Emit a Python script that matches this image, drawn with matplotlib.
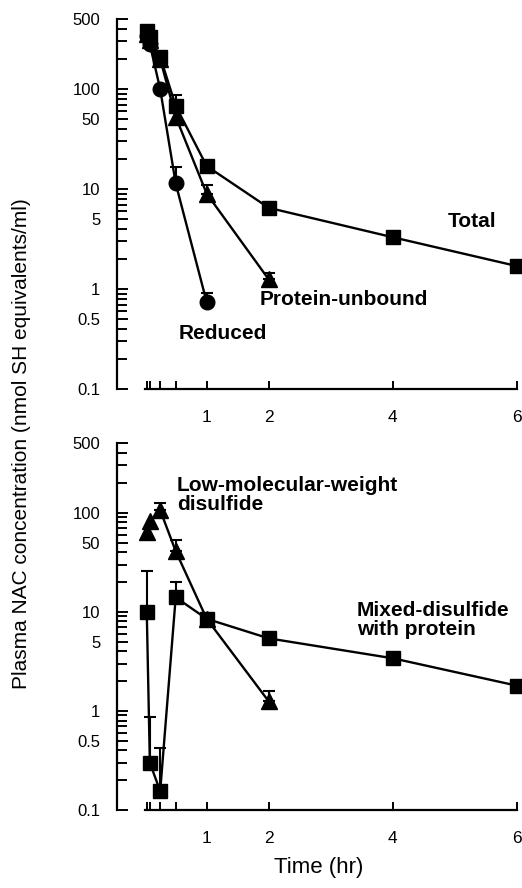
import numpy as np
import matplotlib
matplotlib.use("Agg")
import matplotlib.pyplot as plt
from matplotlib.ticker import FixedLocator, FixedFormatter, LogLocator, NullFormatter

plt.rcParams['font.family'] = ['Liberation Sans', 'DejaVu Sans']

# sampling times in hours: 2, 5, 15, 30 min, 1, 2, 4, 6 h
times = [2 / 60, 5 / 60, 15 / 60, 30 / 60, 1, 2, 4, 6]

# upper panel (nmol SH equivalents/ml)
total = [380, 330, 210, 68, 17, 6.5, 3.3, 1.7]
unbound = [360, 310, 200, 53, 9.0, 1.25]
reduced = [340, 280, 100, 11.4, 0.74]
# upper ends of error bars, None where no bar is visible
total_err = [None, None, None, 88, None, None, None, None]
unbound_err = [None, None, None, None, 11, 1.46]
reduced_err = [None, None, None, 16.8, 0.92]

# lower panel
lmw = [64, 82, 106, 41, 8.5, 1.25]
mixed = [10, 0.30, 0.155, 14, 8.5, 5.4, 3.4, 1.8]
lmw_err = [None, None, 125, 53, None, 1.58]
mixed_err = [26, 0.86, 0.42, 19.8, None, None, None, None]

y_ticks = [0.1, 0.5, 1, 5, 10, 50, 100, 500]
y_tick_labels = ['0.1', '0.5', '1', '5', '10', '50', '100', '500']
x_ticks = times
x_tick_labels = ['', '', '', '', '1', '2', '4', '6']


def draw_series(ax, y, err, marker, ms):
    t = times[:len(y)]
    ax.plot(t, y, color='black', lw=1.7, marker=marker, ms=ms,
            mfc='black', mec='black', zorder=3, clip_on=False)
    et = [t[i] for i in range(len(y)) if err[i] is not None]
    ev = [y[i] for i in range(len(y)) if err[i] is not None]
    eu = [err[i] - y[i] for i in range(len(y)) if err[i] is not None]
    if et:
        ax.errorbar(et, ev, yerr=[np.zeros(len(ev)), eu], fmt='none',
                    ecolor='black', elinewidth=1.5, capsize=4, capthick=1.5,
                    zorder=2)


def style_axis(ax):
    ax.set_yscale('log')
    ax.set_ylim(0.1, 500)
    ax.set_xlim(-0.447, 6.05)
    for side in ['top', 'right']:
        ax.spines[side].set_visible(False)
    for side in ['left', 'bottom']:
        ax.spines[side].set_linewidth(1.6)
    ax.spines['bottom'].set_bounds(0, 6)
    ax.yaxis.set_major_locator(FixedLocator(y_ticks))
    ax.yaxis.set_major_formatter(FixedFormatter(y_tick_labels))
    ax.yaxis.set_minor_locator(LogLocator(base=10, subs=np.arange(2, 10)))
    ax.yaxis.set_minor_formatter(NullFormatter())
    ax.xaxis.set_major_locator(FixedLocator(x_ticks))
    ax.xaxis.set_major_formatter(FixedFormatter(x_tick_labels))
    ax.tick_params(axis='y', which='both', direction='in', width=1.4,
                   labelsize=12, pad=12)
    ax.tick_params(axis='y', which='major', length=8)
    ax.tick_params(axis='y', which='minor', length=7)
    ax.tick_params(axis='x', direction='in', length=6, width=1.4,
                   labelsize=12.5, pad=15)


fig = plt.figure(figsize=(5.22, 8.88), dpi=100)
ax1 = fig.add_axes([0.2241, 0.5619, 0.7717, 0.4164])
ax2 = fig.add_axes([0.2241, 0.0878, 0.7717, 0.4128])

style_axis(ax1)
draw_series(ax1, reduced, reduced_err, 'o', 10.5)
draw_series(ax1, unbound, unbound_err, '^', 11.5)
draw_series(ax1, total, total_err, 's', 10.5)

bold = dict(fontsize=15, fontweight='bold')
ax1.text(5.28, 4.7, 'Total', ha='center', va='center', **bold)
ax1.text(1.86, 0.78, 'Protein-unbound', ha='left', va='center', **bold)
ax1.text(0.54, 0.36, 'Reduced', ha='left', va='center', **bold)

style_axis(ax2)
draw_series(ax2, lmw, lmw_err, '^', 11.5)
draw_series(ax2, mixed, mixed_err, 's', 10.5)
ax2.text(0.52, 235, 'Low-molecular-weight\ndisulfide', ha='left', va='top',
         linespacing=1.0, **bold)
ax2.text(3.42, 12.8, 'Mixed-disulfide\nwith protein', ha='left', va='top',
         linespacing=1.0, **bold)
ax2.set_xlabel('Time (hr)', fontsize=16, labelpad=8)

fig.text(0.042, 0.5, 'Plasma NAC concentration (nmol SH equivalents/ml)',
         rotation=90, ha='center', va='center', fontsize=15)

fig.savefig('out.png', dpi=100)
